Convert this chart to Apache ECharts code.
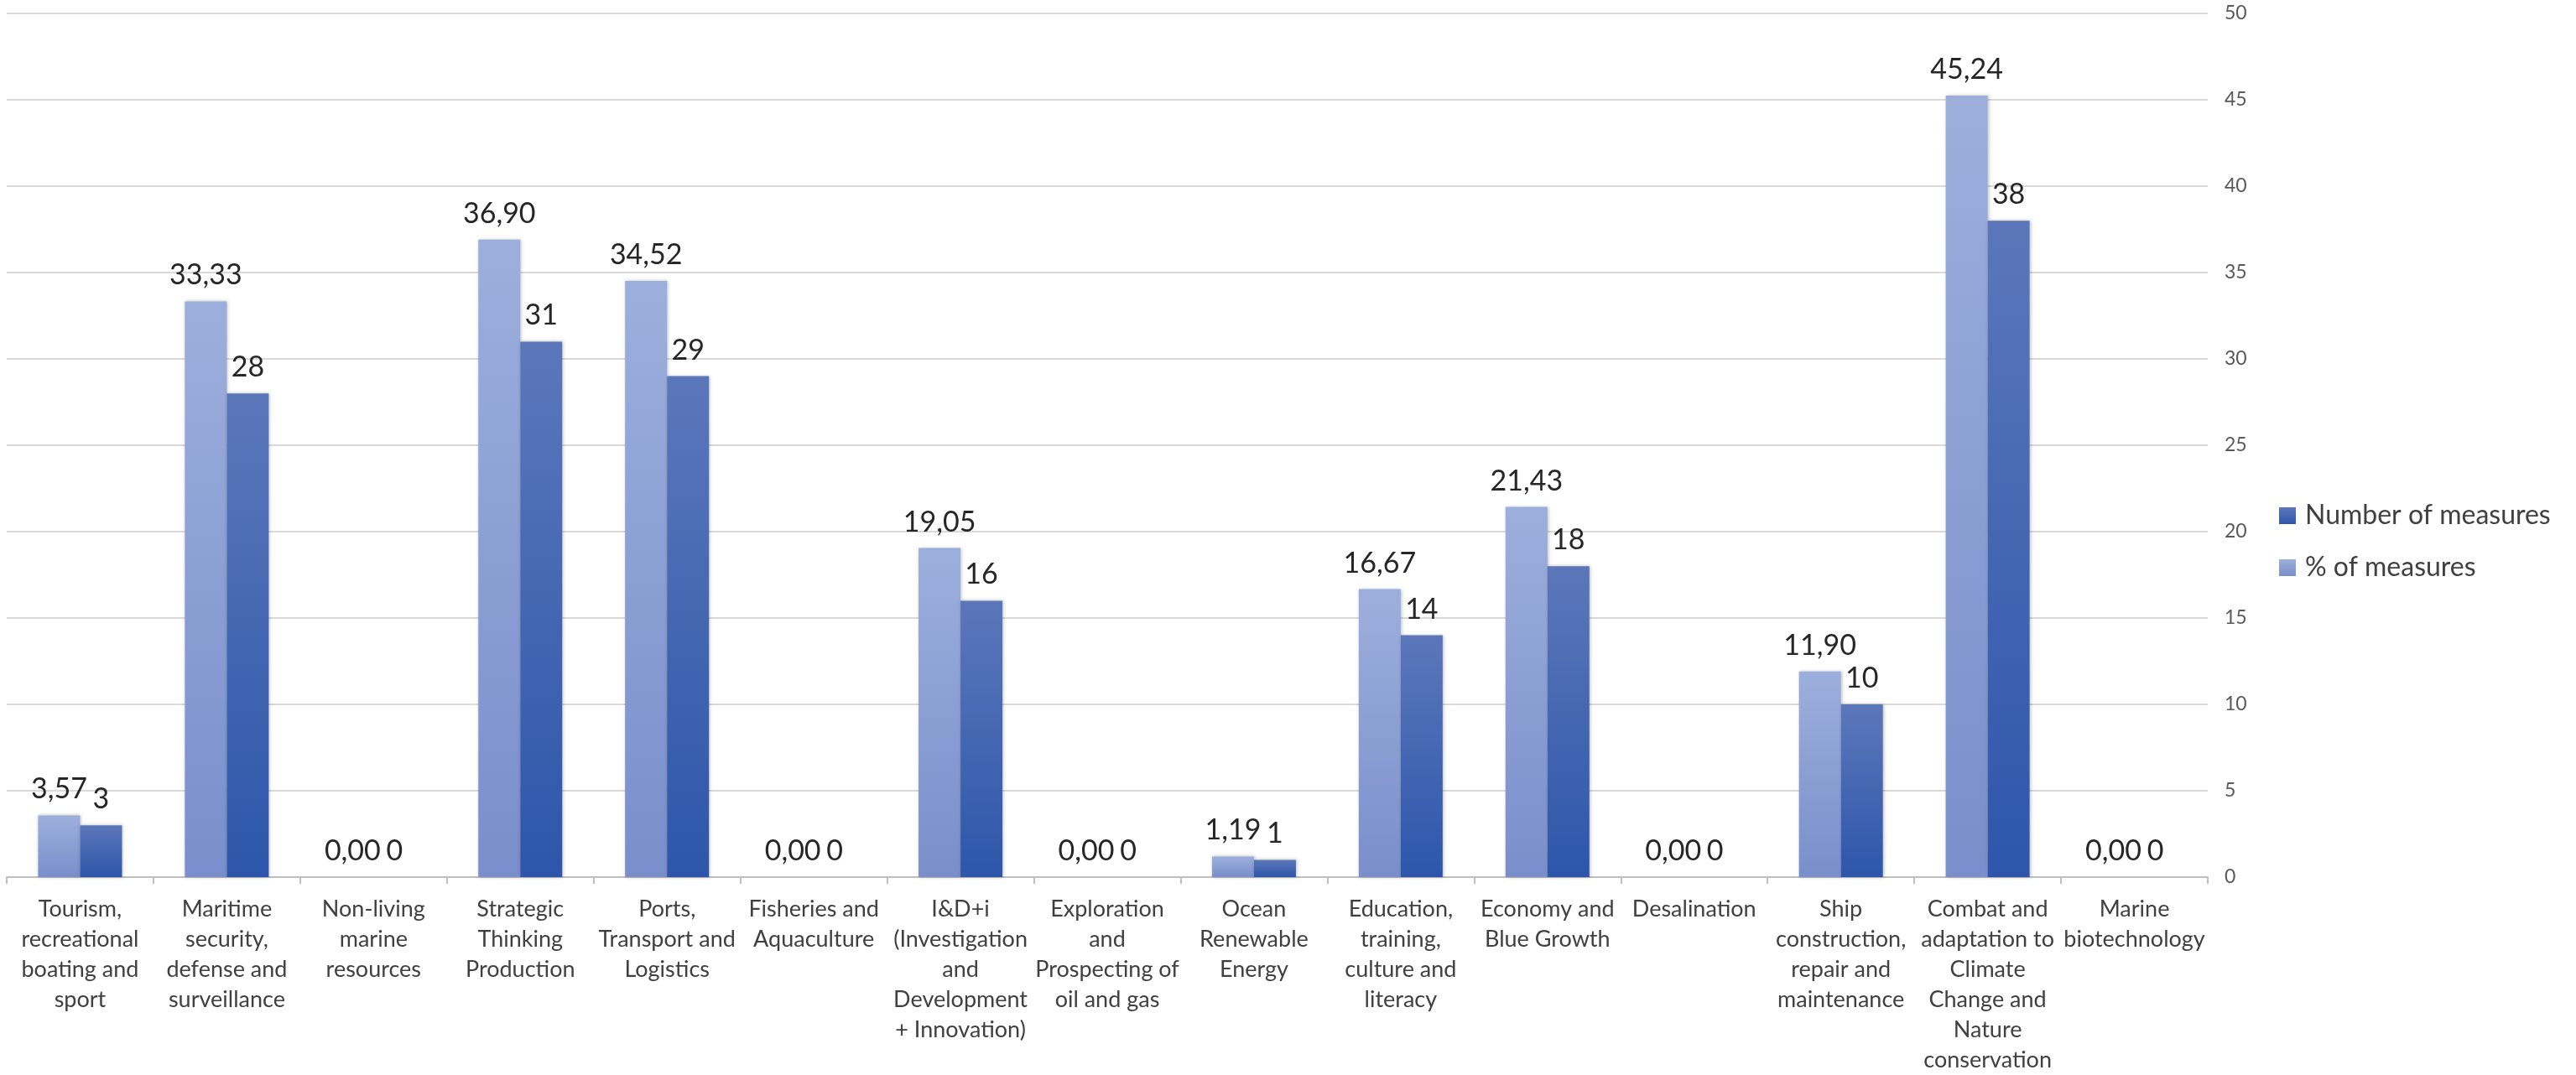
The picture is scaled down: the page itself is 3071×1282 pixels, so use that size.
<!DOCTYPE html>
<html>
<head>
<meta charset="utf-8">
<script src="https://cdn.jsdelivr.net/npm/echarts@6/dist/echarts.min.js"></script>
<style>
html,body{margin:0;padding:0;background:#fff;}
#chart{width:3071px;height:1282px;}
</style>
</head>
<body>
<div id="chart"></div>
<script>
var categories = [
  "Tourism,\nrecreational\nboating and\nsport",
  "Maritime\nsecurity,\ndefense and\nsurveillance",
  "Non-living\nmarine\nresources",
  "Strategic\nThinking\nProduction",
  "Ports,\nTransport and\nLogistics",
  "Fisheries and\nAquaculture",
  "I&D+i\n(Investigation\nand\nDevelopment\n+ Innovation)",
  "Exploration\nand\nProspecting of\noil and gas",
  "Ocean\nRenewable\nEnergy",
  "Education,\ntraining,\nculture and\nliteracy",
  "Economy and\nBlue Growth",
  "Desalination",
  "Ship\nconstruction,\nrepair and\nmaintenance",
  "Combat and\nadaptation to\nClimate\nChange and\nNature\nconservation",
  "Marine\nbiotechnology"
];
var pctOfMeasures = [3.57, 33.33, 0, 36.90, 34.52, 0, 19.05, 0, 1.19, 16.67, 21.43, 0, 11.90, 45.24, 0];
var numberOfMeasures = [3, 28, 0, 31, 29, 0, 16, 0, 1, 14, 18, 0, 10, 38, 0];
var yTicks = {min: 0, max: 50, interval: 5};

var FONT = 'Lato';
var chart = echarts.init(document.getElementById('chart'));
chart.setOption({
  backgroundColor: '#ffffff',
  animation: false,
  grid: {left: 8, right: 439, top: 16, bottom: 233, containLabel: false},
  legend: {
    orient: 'vertical',
    left: 2712,
    top: 594,
    itemWidth: 20,
    itemHeight: 20,
    itemGap: 30,
    icon: 'rect',
    data: ['Number of measures', '% of measures'],
    textStyle: {fontFamily: FONT, fontSize: 32, color: '#404040', padding: [0, 0, 0, 6]}
  },
  xAxis: {
    type: 'category',
    data: categories,
    axisLine: {lineStyle: {color: '#bfbfbf', width: 2}},
    axisTick: {show: true, length: 8, lineStyle: {color: '#bfbfbf', width: 2}},
    axisLabel: {interval: 0, margin: 20, fontFamily: FONT, fontSize: 27, lineHeight: 36, color: '#404040', align: 'center'}
  },
  yAxis: {
    type: 'value',
    position: 'right',
    min: yTicks.min, max: yTicks.max, interval: yTicks.interval,
    axisLine: {show: false},
    axisTick: {show: false},
    axisLabel: {margin: 20, fontFamily: FONT, fontSize: 23, color: '#595959'},
    splitLine: {lineStyle: {color: '#d9d9d9', width: 2}}
  },
  series: [
    {
      name: '% of measures',
      type: 'bar',
      data: pctOfMeasures,
      barWidth: 50,
      barGap: '0%',
      itemStyle: {
        color: new echarts.graphic.LinearGradient(0, 0, 0, 1, [
          {offset: 0, color: '#9cafdc'}, {offset: 1, color: '#7a8ecb'}
        ]),
        shadowBlur: 4, shadowColor: 'rgba(0,0,0,0.25)', shadowOffsetX: 1
      },
      label: {
        show: true, position: 'top', distance: 14,
        fontFamily: FONT, fontSize: 34, color: '#262626',
        formatter: function (p) { return p.value.toFixed(2).replace('.', ','); }
      }
    },
    {
      name: 'Number of measures',
      type: 'bar',
      data: numberOfMeasures,
      barWidth: 50,
      barGap: '0%',
      itemStyle: {
        color: new echarts.graphic.LinearGradient(0, 0, 0, 1, [
          {offset: 0, color: '#5b77ba'}, {offset: 1, color: '#2d56aa'}
        ]),
        shadowBlur: 4, shadowColor: 'rgba(0,0,0,0.25)', shadowOffsetX: 1
      },
      label: {
        show: true, position: 'top', distance: 14,
        fontFamily: FONT, fontSize: 34, color: '#262626',
        formatter: function (p) { return String(p.value); }
      }
    }
  ]
});
</script>
</body>
</html>
